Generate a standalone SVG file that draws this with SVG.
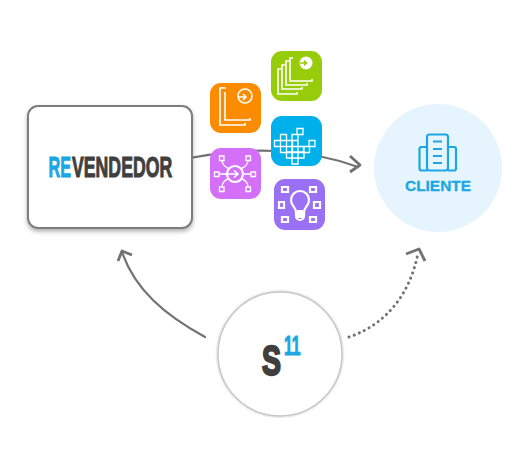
<svg xmlns="http://www.w3.org/2000/svg" width="532" height="465" viewBox="0 0 532 465">
<style>
.c{fill:none;stroke:#727272;stroke-width:2.2;stroke-linecap:round;stroke-linejoin:round}
.h{stroke-width:2.8;stroke-linecap:butt}
.d{stroke-width:3;stroke-dasharray:.1 5.4}
.w{fill:none;stroke:#fff;stroke-width:1.6}
.t{stroke-width:1.3}
.w2{fill:none;stroke:#fff;stroke-width:2.2}
.b{font-family:"Liberation Sans",Arial,sans-serif;font-weight:700}
.dk{fill:#403f3d;stroke:#403f3d}
.bl{fill:#1ba7e4;stroke:#1ba7e4}
</style>
<defs>
<filter id="sh" x="-10%" y="-10%" width="120%" height="125%"><feDropShadow dx="0" dy="2.5" stdDeviation="2" flood-color="#000" flood-opacity=".3"/></filter>
<filter id="sh2" x="-10%" y="-10%" width="120%" height="120%"><feDropShadow dx="0" dy="0" stdDeviation="1.2" flood-color="#000" flood-opacity=".3"/></filter>
</defs>
<g id="connectors">
<path class="c" d="M190 158Q240 149 275 151Q320 153 358 167"/>
<path class="c h" d="M350 156L360 165L350 172"/>
<path class="c" d="M205 337C165 315 135 290 122 252"/>
<path class="c h" d="M118 261L122 251L132 255"/>
<path class="c d" d="M349 337C385 325 410 295 418 253"/>
<path class="c h" d="M406 254L419 249L425 261"/>
</g>
<g id="revendedor">
<rect x="28" y="106" width="164" height="122" rx="10" fill="#fff" stroke="#7d7d7d" stroke-width="2" filter="url(#sh)"/>
<text class="b bl" transform="translate(48.500 177) scale(.56 1)" font-size="29" stroke-width="1">RE</text>
<text class="b dk" transform="translate(72 177) scale(.61 1)" font-size="29" stroke-width="1">VENDEDOR</text>
</g>
<g id="tile-orange">
<rect x="210" y="83" width="51" height="50" rx="11" fill="#fb8c00"/>
<path class="w" d="M226 88H220V125H245V123"/>
<path class="w" d="M225 92V120H250V118"/>
<circle class="w" cx="245" cy="96" r="7"/>
<path class="w" d="M238 97H246M243 94L246 97L243 100"/>
</g>
<g id="tile-green">
<rect x="271" y="51" width="51" height="50" rx="11" fill="#96cc0a"/>
<path class="w" d="M281 69H278V94H297V92"/>
<path class="w" d="M285 65H282V89H302V87"/>
<path class="w" d="M289 61H286V85H307V83"/>
<path class="w" d="M293 58H290V81H312V79"/>
<circle cx="306" cy="63" r="6.500" fill="#fff"/>
<path d="M300 63H306M304 60.500L306.500 63L304 65.500" fill="none" stroke="#96cc0a" stroke-width="1.500"/>
</g>
<g id="tile-blue">
<rect x="271" y="116" width="51" height="50" rx="11" fill="#00b0ea"/>
<path class="w t" d="M297 128.500h6v6h-6zM280.500 134.500h6v6h-6zM292 134.500h6v6h-6zM274.500 140.500h6v6h-6zM280.500 140.500h6v6h-6zM286.500 140.500h6v6h-6zM292 140.500h6v6h-6zM309 140.500h6v6h-6zM280.500 146.500h6v6h-6zM286.500 146.500h6v6h-6zM292 146.500h6v6h-6zM298 146.500h6v6h-6zM303.500 146.500h6v6h-6zM286.500 152h6v6h-6zM292 152h6v6h-6zM298 152h6v6h-6zM292 158h6v6h-6z"/>
</g>
<g id="tile-pink">
<rect x="210" y="148" width="51" height="51" rx="11" fill="#d470f8"/>
<circle class="w2" cx="235" cy="174" r="8"/>
<path class="w" d="M225 174H238M234 170.500L238 174L234 177.500"/>
<path class="w t" d="M219 174H226M244 174H251M222 161C223 167 227 167 229 169M248 161C247 167 243 167 241 169M222 186C223 180 227 180 229 178M248 186C247 180 243 180 241 178"/>
<path class="w t" d="M219.500 156h4.500v4.500h-4.500zM246 156h4.500v4.500h-4.500zM214.500 172h4.500v4.500h-4.500zM251 172h4.500v4.500h-4.500zM219.500 187h4.500v4.500h-4.500zM246 187h4.500v4.500h-4.500z"/>
</g>
<g id="tile-purple">
<rect x="274" y="179" width="51" height="51" rx="11" fill="#9a71f5"/>
<path class="w2" d="M296 212C296 207 291 206 291 200A9 9 0 0 1 309 200C309 206 304 207 304 212V216A4 4 0 0 1 296 216Z"/>
<path d="M297 210H303V218H297Z" fill="#fff"/>
<path class="w2" d="M282 187h6v5h-6zM310 187h6v5h-6zM279 202h5v6h-5zM314 202h6v6h-6zM282 217h6v5h-6zM310 217h6v5h-6z"/>
</g>
<g id="cliente">
<circle cx="438" cy="168" r="64" fill="#e6f5fd"/>
<g fill="none" stroke="#1ba7e4" stroke-width="2.200">
<rect x="427" y="134.500" width="21" height="36" rx="2.500"/>
<path d="M427 147H421.500A2 2 0 0 0 419.500 149V168.500A2 2 0 0 0 421.500 170.500H427M448 147H454A2 2 0 0 1 456 149V168.500A2 2 0 0 1 454 170.500H448"/>
<path d="M433 141.500H442M433 149H442M433 156H442M433 163H442"/>
</g>
<text class="b bl" x="438" y="191" font-size="14.500" stroke-width=".3" text-anchor="middle" textLength="66" lengthAdjust="spacingAndGlyphs">CLIENTE</text>
</g>
<g id="s11">
<circle cx="280" cy="354" r="62" fill="#fff" stroke="#c8c8c8" stroke-width="1.500" filter="url(#sh2)"/>
<text class="b dk" transform="translate(262 374.500) scale(.66 1)" font-size="43" stroke-width="2.400">S</text>
<text class="b bl" transform="translate(284 355) scale(.58 1)" font-size="27" stroke-width="1">11</text>
</g>
</svg>
